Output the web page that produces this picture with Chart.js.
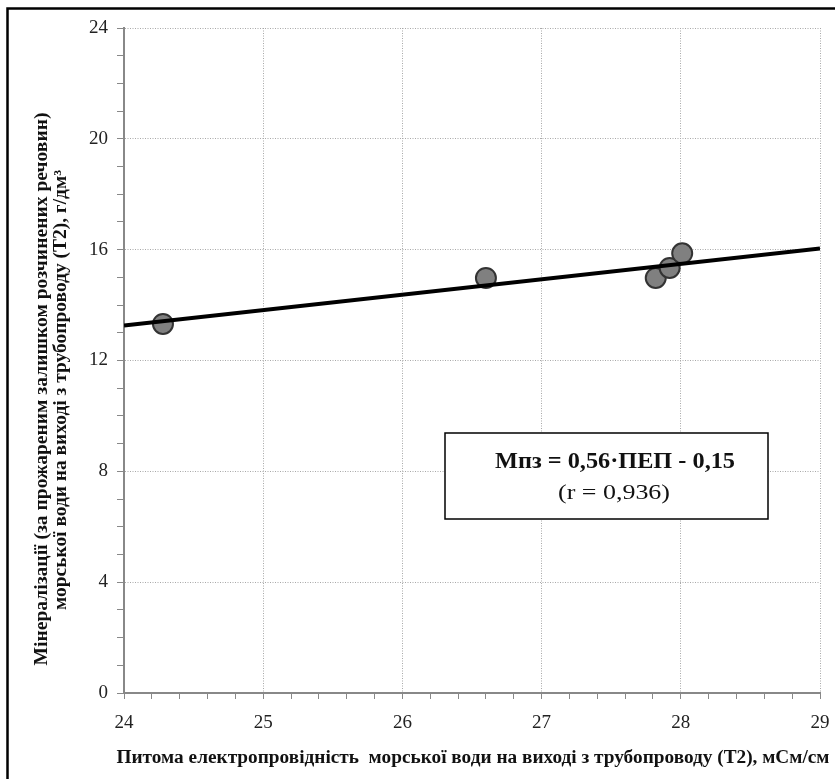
<!DOCTYPE html>
<html>
<head>
<meta charset="utf-8">
<script src="https://cdn.jsdelivr.net/npm/chart.js@4.4.0/dist/chart.umd.min.js"></script>
<style>
  body { margin: 0; background: #fff; }
</style>
</head>
<body>
<canvas id="chart" width="835" height="779"></canvas>
<script>
// дані з графіка
const pepValues = [24.28, 26.6, 27.82, 27.92, 28.01];
const mineralValues = [13.32, 14.98, 14.98, 15.34, 15.87];
// лінія тренду (кінці по краях осі)
const trendX = [24, 29];
const trendY = [13.26, 16.04];

const xTitle = "Питома електропровідність  морської води на виході з трубопроводу (Т2), мСм/см";
const yTitle1 = "Мінералізації (за прожареним залишком розчинених речовин)";
const yTitle2 = "морської води на виході з трубопроводу (Т2), г/дм³";
const formula = "Мпз = 0,56·ПЕП - 0,15";
const corr = "(r = 0,936)";

const serif = "'Liberation Serif', 'Times New Roman', serif";

function isWhole(v, step) {
  const q = v / step;
  return Math.abs(q - Math.round(q)) < 1e-6;
}

// текст, стиснутий по ширині (як у Excel)
function fitText(ctx, text, cx, cy, width, rot) {
  ctx.save();
  ctx.translate(cx, cy);
  ctx.rotate(rot);
  const w = ctx.measureText(text).width;
  ctx.scale(width / w, 1);
  ctx.textAlign = "center";
  ctx.textBaseline = "middle";
  ctx.fillText(text, 0, 0);
  ctx.restore();
}

const extras = {
  id: "extras",
  afterDraw(chart) {
    const ctx = chart.ctx;
    // рамка
    ctx.save();
    ctx.strokeStyle = "#000";
    ctx.lineWidth = 2.5;
    ctx.beginPath();
    ctx.moveTo(7.5, 779);
    ctx.lineTo(7.5, 8.5);
    ctx.lineTo(835, 8.5);
    ctx.stroke();

    // підписи осей
    ctx.fillStyle = "#111";
    ctx.font = "bold 18px " + serif;
    fitText(ctx, yTitle1, 42, 389, 553, -Math.PI / 2);
    fitText(ctx, yTitle2, 61, 390, 440, -Math.PI / 2);
    fitText(ctx, xTitle, 473, 758, 713, 0);

    // рамка з рівнянням
    ctx.fillStyle = "#fff";
    ctx.fillRect(445, 433, 323, 86);
    ctx.strokeStyle = "#000";
    ctx.lineWidth = 1.5;
    ctx.strokeRect(445, 433, 323, 86);
    ctx.fillStyle = "#111";
    ctx.font = "bold 24px " + serif;
    fitText(ctx, formula, 615, 462, 240, 0);
    ctx.font = "22px " + serif;
    fitText(ctx, corr, 614, 493, 112, 0);
    ctx.restore();
  }
};

const scatterData = pepValues.map((x, i) => ({ x: x, y: mineralValues[i] }));
const trendData = trendX.map((x, i) => ({ x: x, y: trendY[i] }));

new Chart(document.getElementById("chart"), {
  type: "scatter",
  data: {
    datasets: [
      {
        type: "line",
        data: trendData,
        borderColor: "#000",
        borderWidth: 4,
        pointRadius: 0,
        fill: false,
        order: 0,
      },
      {
        data: scatterData,
        backgroundColor: "#808080",
        borderColor: "#333",
        borderWidth: 2,
        pointRadius: 10,
        order: 1,
      },
    ],
  },
  options: {
    responsive: false,
    animation: false,
    events: [],
    layout: { padding: { top: 28, right: 15, left: 0, bottom: 0 } },
    plugins: { legend: { display: false }, tooltip: { enabled: false } },
    scales: {
      x: {
        type: "linear",
        min: 24,
        max: 29,
        afterFit: (s) => {
          s.height = 86;
          s.paddingLeft = 0;
          s.paddingRight = 0;
        },
        afterBuildTicks: (s) => {
          const t = [];
          for (let i = 0; i <= 25; i++) t.push({ value: 24 + i * 0.2 });
          s.ticks = t;
        },
        ticks: {
          autoSkip: false,
          maxRotation: 0,
          color: "#222",
          font: { family: serif, size: 19 },
          padding: 13,
          callback: (v) => (isWhole(v, 1) ? String(Math.round(v)) : ""),
        },
        grid: {
          color: (c) => (c.tick && isWhole(c.tick.value, 1) ? "#a8a8a8" : "transparent"),
          tickColor: "#888",
          tickLength: 6,
          lineWidth: 1,
        },
        border: { color: "#888", width: 2, dash: [1, 1.5] },
      },
      y: {
        type: "linear",
        min: 0,
        max: 24,
        afterFit: (s) => {
          s.width = 124;
          s.paddingTop = 0;
          s.paddingBottom = 0;
        },
        afterBuildTicks: (s) => {
          const t = [];
          for (let i = 0; i <= 24; i++) t.push({ value: i });
          s.ticks = t;
        },
        ticks: {
          autoSkip: false,
          color: "#222",
          font: { family: serif, size: 19 },
          padding: 9,
          callback: (v) => (isWhole(v, 4) ? String(v) : ""),
        },
        grid: {
          color: (c) => (c.tick && isWhole(c.tick.value, 4) ? "#a8a8a8" : "transparent"),
          tickColor: "#888",
          tickLength: 7,
          lineWidth: 1,
        },
        border: { color: "#888", width: 2, dash: [1, 1.5] },
      },
    },
  },
  plugins: [extras],
});
</script>
</body>
</html>
